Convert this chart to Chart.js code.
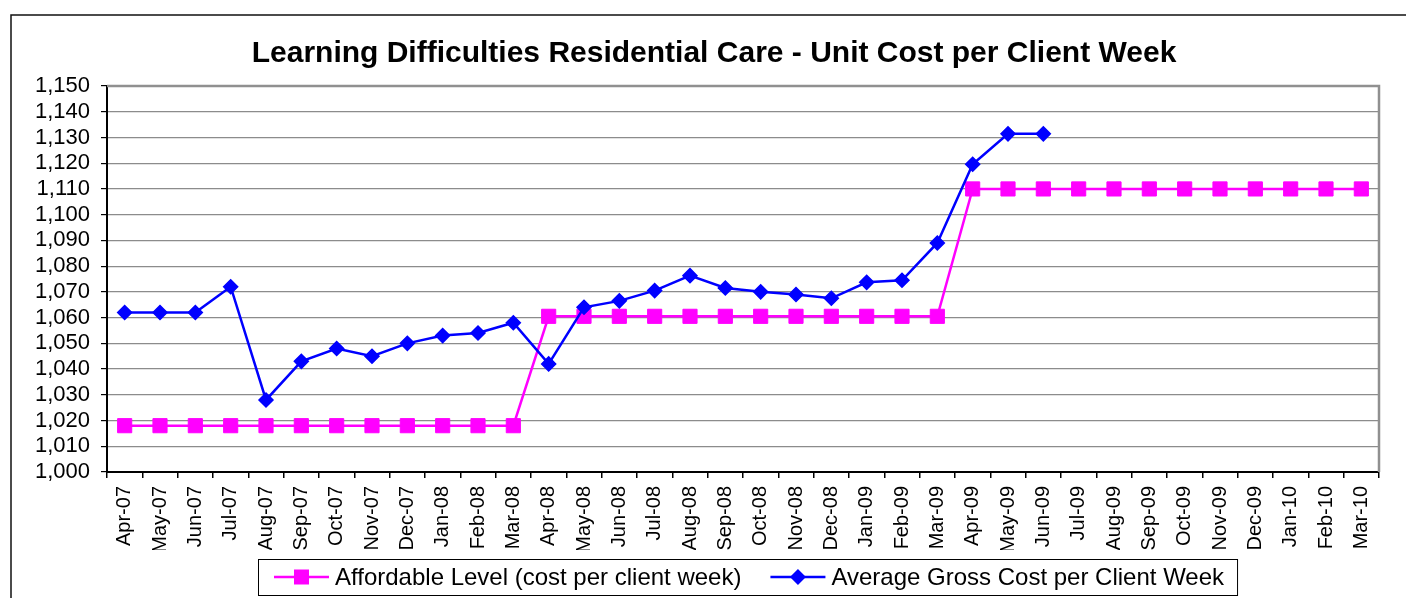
<!DOCTYPE html>
<html>
<head>
<meta charset="utf-8">
<title>Learning Difficulties Residential Care - Unit Cost per Client Week</title>
<script src="https://cdn.jsdelivr.net/npm/chart.js@4/dist/chart.umd.min.js"></script>
<style>
    html, body { margin: 0; padding: 0; background: #fff; }
    #wrap { width: 1406px; height: 598px; position: relative; }
</style>
</head>
<body>
<div id="wrap"><canvas id="chart"></canvas></div>
<script>
// --- Data ---
const months = [
    'Apr-07', 'May-07', 'Jun-07', 'Jul-07', 'Aug-07', 'Sep-07', 'Oct-07', 'Nov-07', 'Dec-07', 'Jan-08', 'Feb-08', 'Mar-08',
    'Apr-08', 'May-08', 'Jun-08', 'Jul-08', 'Aug-08', 'Sep-08', 'Oct-08', 'Nov-08', 'Dec-08', 'Jan-09', 'Feb-09', 'Mar-09',
    'Apr-09', 'May-09', 'Jun-09', 'Jul-09', 'Aug-09', 'Sep-09', 'Oct-09', 'Nov-09', 'Dec-09', 'Jan-10', 'Feb-10', 'Mar-10'
];

const affordableLevel = [
    1018, 1018, 1018, 1018, 1018, 1018, 1018, 1018, 1018, 1018, 1018, 1018,
    1060.5, 1060.5, 1060.5, 1060.5, 1060.5, 1060.5, 1060.5, 1060.5, 1060.5, 1060.5, 1060.5, 1060.5,
    1110, 1110, 1110, 1110, 1110, 1110, 1110, 1110, 1110, 1110, 1110, 1110
];

const averageGrossCost = [
    1062, 1062, 1062, 1072, 1028, 1043, 1048, 1045, 1050, 1053, 1054, 1058,
    1042, 1064, 1066.5, 1070.5, 1076.3, 1071.5, 1070, 1069, 1067.5, 1073.7, 1074.5, 1089,
    1119.6, 1131.4, 1131.4, null, null, null, null, null, null, null, null, null
];

const yTicks = { min: 1000, max: 1150, step: 10 };

const seriesNames = ['Affordable Level (cost per client week)', 'Average Gross Cost per Client Week'];
const chartTitle = 'Learning Difficulties Residential Care - Unit Cost per Client Week';

const FONT = '"Liberation Sans", Arial, Helvetica, sans-serif';
const PINK = '#ff00ff';
const BLUE = '#0000ff';

// frame, title, plot border and legend box
const framePlugin = {
    id: 'frame',
    beforeDraw(chart) {
        const ctx = chart.ctx;
        ctx.save();
        ctx.fillStyle = '#fff';
        ctx.fillRect(0, 0, chart.width, chart.height);
        ctx.strokeStyle = '#111';
        ctx.lineWidth = 1.5;
        ctx.strokeRect(11, 15, chart.width + 40, chart.height + 40);

        // title, centred on the outer frame
        ctx.fillStyle = '#000';
        ctx.font = 'bold 30px ' + FONT;
        ctx.textAlign = 'center';
        ctx.textBaseline = 'middle';
        ctx.fillText(chartTitle, 714, 54);
        ctx.restore();
    },
    afterDraw(chart) {
        const ctx = chart.ctx;
        const a = chart.chartArea;
        ctx.save();
        // top and right border of the plot area
        ctx.strokeStyle = '#909090';
        ctx.lineWidth = 2.5;
        ctx.beginPath();
        ctx.moveTo(a.left, a.top);
        ctx.lineTo(a.right, a.top);
        ctx.lineTo(a.right, a.bottom);
        ctx.stroke();

        // legend
        const boxLeft = 258, boxTop = 559, boxH = 36;
        const cy = boxTop + boxH / 2;
        ctx.font = '24px ' + FONT;
        ctx.textBaseline = 'middle';
        ctx.textAlign = 'left';

        let x = boxLeft + 16;
        chart.data.datasets.forEach((ds) => {
            ctx.strokeStyle = ds.borderColor;
            ctx.lineWidth = 2.5;
            ctx.beginPath();
            ctx.moveTo(x, cy);
            ctx.lineTo(x + 55, cy);
            ctx.stroke();
            ctx.fillStyle = ds.pointBackgroundColor;
            if (ds.pointStyle === 'rect') {
                ctx.fillRect(x + 20, cy - 7.5, 15, 15);
            } else {
                ctx.beginPath();
                ctx.moveTo(x + 27.5 - 8, cy);
                ctx.lineTo(x + 27.5, cy - 8);
                ctx.lineTo(x + 27.5 + 8, cy);
                ctx.lineTo(x + 27.5, cy + 8);
                ctx.closePath();
                ctx.fill();
            }
            ctx.fillStyle = '#000';
            ctx.fillText(ds.label, x + 61, cy + 1);
            x += 61 + ctx.measureText(ds.label).width + 29;
        });
        const boxRight = x - 29 + 13;
        ctx.strokeStyle = '#000';
        ctx.lineWidth = 1;
        ctx.strokeRect(boxLeft + 0.5, boxTop + 0.5, boxRight - boxLeft, boxH);
        ctx.restore();
    }
};

const ctx = document.getElementById('chart').getContext('2d');
new Chart(ctx, {
    type: 'line',
    data: {
        labels: months,
        datasets: [
            {
                label: seriesNames[0],
                data: affordableLevel,
                borderColor: PINK,
                backgroundColor: PINK,
                pointBackgroundColor: PINK,
                pointBorderColor: PINK,
                borderWidth: 2.5,
                pointStyle: 'rect',
                pointRadius: 10,
                pointBorderWidth: 1,
                tension: 0,
                order: 2
            },
            {
                label: seriesNames[1],
                data: averageGrossCost,
                borderColor: BLUE,
                backgroundColor: BLUE,
                pointBackgroundColor: BLUE,
                pointBorderColor: BLUE,
                borderWidth: 2.5,
                pointStyle: 'rectRot',
                pointRadius: 7,
                pointBorderWidth: 1.5,
                tension: 0,
                spanGaps: false,
                order: 1
            }
        ]
    },
    options: {
        responsive: true,
        maintainAspectRatio: false,
        animation: false,
        events: [],
        layout: {
            padding: { left: 0, right: 27, top: 86, bottom: 48 }
        },
        plugins: {
            legend: { display: false },
            tooltip: { enabled: false },
            title: { display: false }
        },
        scales: {
            x: {
                offset: true,
                grid: {
                    offset: true,
                    drawOnChartArea: false,
                    drawTicks: true,
                    tickLength: 6,
                    color: '#000',
                    lineWidth: 1.5
                },
                border: { color: '#000', width: 2 },
                ticks: {
                    autoSkip: false,
                    minRotation: 90,
                    maxRotation: 90,
                    padding: 8,
                    color: '#000',
                    font: { family: FONT, size: 20 }
                },
                afterFit(scale) { scale.height = 78; }
            },
            y: {
                min: yTicks.min,
                max: yTicks.max,
                grid: {
                    color: '#8c8c8c',
                    tickColor: '#000',
                    lineWidth: 1.2,
                    tickLength: 6
                },
                border: { color: '#000', width: 2 },
                ticks: {
                    stepSize: yTicks.step,
                    autoSkip: false,
                    padding: 11,
                    color: '#000',
                    font: { family: FONT, size: 22 },
                    callback: (v) => v.toLocaleString('en-US')
                },
                afterFit(scale) { scale.width = 107; }
            }
        }
    },
    plugins: [framePlugin]
});
</script>
</body>
</html>
